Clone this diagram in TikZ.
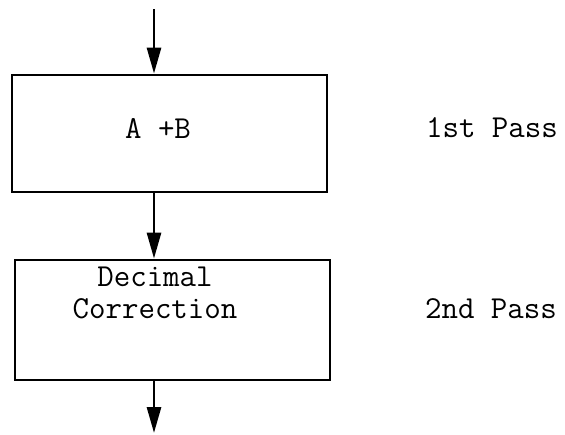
\documentclass[tikz,border=0pt]{standalone}
\usepackage{tikz}
\usetikzlibrary{arrows.meta, positioning}

\begin{document}
\begin{tikzpicture}[x=0.5pt, y=-0.5pt,
  passbox/.style={draw, line width=1.4pt, minimum width=157.5pt, minimum height=58.5pt, inner sep=0pt},
  boxtext/.style={font=\fontsize{16}{16}\selectfont\ttfamily, align=center},
  passlabel/.style={font=\fontsize{16}{16}\selectfont\ttfamily, anchor=base west},
  flow/.style={line width=1.4pt, -{Triangle[length=13pt, width=7pt]}}
]
\useasboundingbox (0,0) rectangle (565,434);

%% Boxes
\node[passbox] (add) at (169.5,133.5) {};
\node[passbox, minimum height=60pt] (corr) at (172.5,320) {};
\node[boxtext] (addtext) at (158,128) {A +B};
\node[boxtext] (corrtext) at (155,293) {Decimal\\Correction};

%% Pass labels
\node[passlabel] (pass1) at (419,137) {1st Pass};
\node[passlabel] (pass2) at (418,318) {2nd Pass};

%% Flow
\coordinate (in) at (154,9);
\coordinate (out) at (154,433);
\draw[flow] (in) -- (in |- add.north);
\draw[flow] (in |- add.south) -- (in |- corr.north);
\draw[flow] (in |- corr.south) -- (out);
\end{tikzpicture}
\end{document}
